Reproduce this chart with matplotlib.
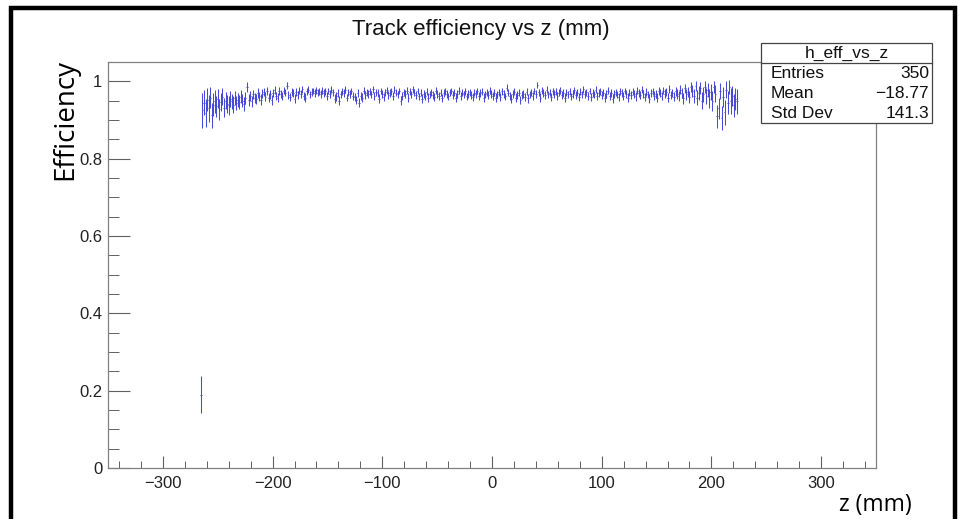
import numpy as np
import matplotlib
matplotlib.use("Agg")
import matplotlib.pyplot as plt
from matplotlib.patches import Rectangle
from matplotlib.ticker import MultipleLocator, FixedLocator

# ---- data: 350 bins of 1.4 mm from z = -266 to 224 mm ----
z_start = -266.0
bin_width = 1.4

eff_milli = [
    190, 925, 945, 918, 952, 930, 958, 912, 940, 948,
    935, 955, 928, 946, 960, 932, 950, 942, 938, 955,
    948, 940, 958, 944, 952, 946, 960, 950, 942, 957,
    985, 951, 962, 948, 966, 958, 955, 970, 961, 953,
    968, 972, 960, 975, 958, 966, 952, 970, 978, 962,
    958, 975, 968, 962, 976, 971, 988, 965, 960, 973,
    969, 955, 972, 964, 976, 968, 980, 962, 958, 974,
    978, 966, 972, 975, 969, 977, 971, 973, 968, 976,
    970, 974, 962, 975, 968, 978, 972, 955, 961, 970,
    950, 966, 974, 969, 978, 958, 972, 967, 975, 963,
    960, 952, 970, 945, 962, 958, 976, 965, 971, 968,
    974, 966, 980, 963, 972, 969, 955, 975, 967, 960,
    972, 977, 965, 969, 974, 962, 978, 971, 966, 975,
    950, 963, 972, 968, 976, 958, 973, 966, 979, 970,
    964, 975, 961, 970, 955, 968, 962, 973, 958, 966,
    972, 965, 960, 976, 968, 963, 971, 957, 969, 974,
    967, 961, 972, 975, 965, 970, 958, 968, 976, 963,
    970, 966, 974, 961, 968, 972, 965, 960, 971, 967,
    975, 962, 969, 973, 958, 966, 970, 964, 976, 968,
    963, 970, 958, 966, 972, 960, 974, 968, 961, 984,
    970, 962, 955, 967, 973, 958, 965, 971, 952, 964,
    968, 960, 973, 956, 966, 970, 962, 975, 968, 990,
    972, 958, 976, 969, 964, 978, 966, 971, 960, 974,
    967, 973, 962, 970, 976, 965, 969, 958, 972, 966,
    974, 961, 968, 977, 964, 970, 959, 973, 966, 979,
    968, 972, 963, 975, 960, 970, 966, 978, 962, 969,
    974, 965, 971, 958, 968, 976, 963, 970, 955, 967,
    972, 966, 960, 974, 969, 962, 975, 968, 958, 971,
    965, 973, 968, 961, 976, 970, 964, 978, 967, 960,
    972, 966, 955, 970, 974, 963, 968, 958, 975, 969,
    962, 976, 968, 972, 958, 980, 965, 970, 960, 974,
    968, 962, 978, 970, 956, 982, 966, 972, 960, 985,
    975, 962, 988, 958, 970, 982, 950, 966, 985, 962,
    978, 955, 972, 948, 985, 968, 910, 930, 975, 905,
    960, 920, 978, 945, 985, 950, 962, 938, 955, 948,
]

err_milli = [
    48, 45, 32, 36, 30, 34, 28, 33, 30, 29,
    28, 25, 27, 24, 22, 25, 22, 23, 24, 21,
    20, 21, 18, 19, 18, 18, 17, 17, 18, 16,
    13, 15, 13, 14, 12, 13, 13, 12, 12, 13,
    11, 11, 12, 10, 12, 11, 12, 11, 10, 11,
    11, 10, 10, 11, 10, 10, 9, 10, 11, 10,
    10, 11, 10, 10, 9, 10, 9, 10, 11, 10,
    9, 10, 10, 9, 10, 9, 10, 9, 10, 9,
    10, 9, 10, 9, 10, 9, 9, 11, 11, 10,
    11, 10, 9, 10, 9, 10, 9, 10, 9, 10,
    10, 11, 10, 12, 10, 11, 9, 10, 9, 10,
    9, 10, 9, 10, 9, 10, 11, 9, 10, 10,
    9, 9, 10, 10, 9, 10, 9, 9, 10, 9,
    11, 10, 9, 10, 9, 11, 9, 10, 9, 9,
    10, 9, 10, 9, 11, 10, 10, 9, 11, 10,
    9, 10, 10, 9, 10, 10, 9, 11, 10, 9,
    10, 10, 9, 9, 10, 9, 11, 10, 9, 10,
    9, 10, 9, 10, 10, 9, 10, 10, 9, 10,
    9, 10, 10, 9, 11, 10, 9, 10, 9, 10,
    10, 9, 11, 10, 9, 10, 9, 10, 10, 8,
    9, 10, 11, 10, 9, 11, 10, 9, 11, 10,
    10, 10, 9, 11, 10, 9, 10, 9, 10, 8,
    9, 11, 9, 10, 10, 9, 10, 9, 10, 9,
    10, 9, 10, 9, 9, 10, 10, 11, 9, 10,
    9, 10, 10, 9, 10, 9, 11, 9, 10, 9,
    10, 9, 10, 9, 11, 10, 10, 9, 10, 10,
    9, 10, 9, 11, 10, 9, 10, 10, 11, 10,
    9, 10, 11, 9, 10, 10, 9, 10, 11, 10,
    10, 9, 10, 11, 9, 10, 10, 9, 10, 11,
    10, 10, 12, 10, 9, 11, 10, 11, 10, 10,
    11, 10, 11, 10, 12, 10, 11, 11, 12, 11,
    13, 14, 12, 13, 15, 12, 14, 13, 15, 12,
    16, 18, 14, 20, 17, 15, 22, 19, 16, 21,
    18, 24, 20, 26, 16, 22, 30, 28, 20, 32,
    26, 33, 22, 30, 18, 34, 25, 30, 28, 32,
]

x_major = [-300, -200, -100, 0, 100, 200, 300]
x_labels = ["\u2212300", "\u2212200", "\u2212100", "0", "100", "200", "300"]
y_major = [0, 0.2, 0.4, 0.6, 0.8, 1.0]
y_labels = ["0", "0.2", "0.4", "0.6", "0.8", "1"]

stats_title = "h_eff_vs_z"
stats_rows = [("Entries", "350"), ("Mean", "\u221218.77"), ("Std Dev", "141.3")]

# ---- derived ----
eff = np.array(eff_milli) / 1000.0
err = np.array(err_milli) / 1000.0
z = z_start + bin_width * (np.arange(len(eff)) + 0.5)

plt.rcParams['font.family'] = ['Liberation Sans', 'DejaVu Sans']

W, H = 959, 519
fig = plt.figure(figsize=(W / 100, H / 100), dpi=100)
fig.patch.set_facecolor('white')

# outer black frame
fig.patches.append(Rectangle((11 / W, -0.05), (955 - 11) / W, 1.05 - 8 / H,
                             transform=fig.transFigure, fill=False,
                             edgecolor='black', linewidth=3.2, zorder=0))

left, right, top, bottom = 108, 876, 62, 468
ax = fig.add_axes([left / W, 1 - bottom / H, (right - left) / W, (bottom - top) / H])

ax.errorbar(z, eff, yerr=err, xerr=bin_width / 2, fmt='none',
            ecolor='#4a4ad8', elinewidth=0.75, capsize=0)

ax.set_xlim(-350, 350)
ax.set_ylim(0, 1.05)

ax.xaxis.set_major_locator(FixedLocator(x_major))
ax.set_xticklabels(x_labels)
ax.xaxis.set_minor_locator(MultipleLocator(20))
ax.yaxis.set_major_locator(FixedLocator(y_major))
ax.set_yticklabels(y_labels)
ax.yaxis.set_minor_locator(MultipleLocator(0.05))

for s in ax.spines.values():
    s.set_color('#808080')
    s.set_linewidth(0.9)

ax.tick_params(axis='x', which='major', direction='in', length=8.5, width=0.8,
               color='#606060', labelsize=12, pad=6, labelcolor='#222222')
ax.tick_params(axis='x', which='minor', direction='in', length=5, width=0.7,
               color='#606060')
ax.tick_params(axis='y', which='major', direction='in', length=16, width=0.8,
               color='#606060', labelsize=12, pad=4, labelcolor='#222222')
ax.tick_params(axis='y', which='minor', direction='in', length=8, width=0.7,
               color='#606060')
ax.tick_params(top=False, right=False)

# title
fig.text(481 / W, 1 - 30 / H, "Track efficiency vs z (mm)", ha='center', va='center',
         fontsize=16, color='#111111')

# axis labels
fig.text(65 / W, 1 - 119 / H, "Efficiency", rotation=90, ha='center', va='center',
         fontsize=20, color='black', family=['Open Sans', 'DejaVu Sans'])
fig.text(912 / W, 1 - 505 / H, "z (mm)", ha='right', va='center', fontsize=16.5,
         color='black', family=['Open Sans', 'DejaVu Sans'])

# stats box
bx0, bx1, by0, by1, byt = 761, 932, 43, 123, 63
fig.patches.append(Rectangle((bx0 / W, 1 - by1 / H), (bx1 - bx0) / W, (by1 - by0) / H,
                             transform=fig.transFigure, facecolor='white',
                             edgecolor='#444444', linewidth=0.9, zorder=5))
fig.add_artist(plt.Line2D([bx0 / W, bx1 / W], [1 - byt / H, 1 - byt / H],
                          transform=fig.transFigure, color='#444444', lw=0.9, zorder=6))
fig.text((bx0 + bx1) / 2 / W, 1 - (by0 + byt) / 2 / H, stats_title, ha='center',
         va='center', fontsize=12.5, zorder=7, color='#111111')
row_h = (by1 - byt) / 3
for k, (lab, val) in enumerate(stats_rows):
    yc = 1 - (byt + row_h * (k + 0.5)) / H
    fig.text((bx0 + 10) / W, yc, lab, ha='left', va='center', fontsize=12.5, zorder=7,
             color='#111111')
    fig.text((bx1 - 3) / W, yc, val, ha='right', va='center', fontsize=12.5, zorder=7,
             color='#111111')

fig.savefig("out.png", dpi=100, facecolor='white')
